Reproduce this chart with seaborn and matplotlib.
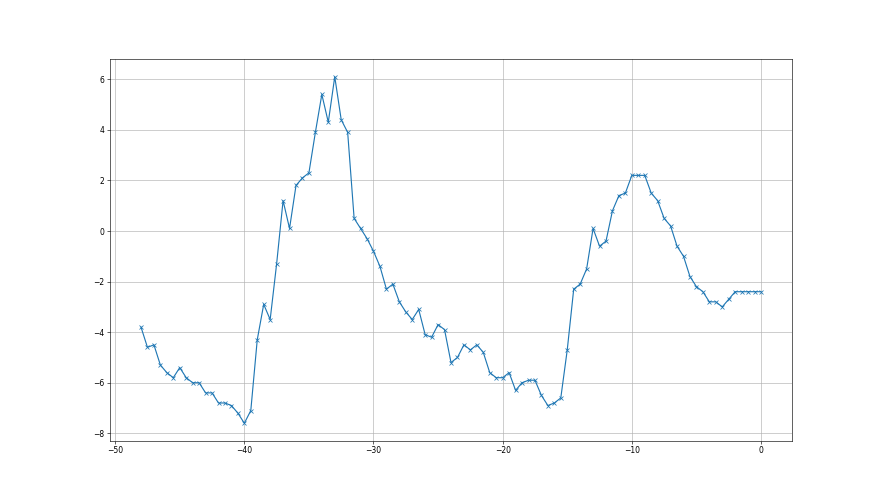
import numpy as np
import matplotlib
matplotlib.use("Agg")
import matplotlib.pyplot as plt
import seaborn as sns

# x positions: -48 .. 0 in steps of 0.5
x_vals = [
    -48, -47.5, -47, -46.5, -46, -45.5, -45, -44.5, -44, -43.5,
    -43, -42.5, -42, -41.5, -41, -40.5, -40, -39.5, -39, -38.5,
    -38, -37.5, -37, -36.5, -36, -35.5, -35, -34.5, -34, -33.5,
    -33, -32.5, -32, -31.5, -31, -30.5, -30, -29.5, -29, -28.5,
    -28, -27.5, -27, -26.5, -26, -25.5, -25, -24.5, -24, -23.5,
    -23, -22.5, -22, -21.5, -21, -20.5, -20, -19.5, -19, -18.5,
    -18, -17.5, -17, -16.5, -16, -15.5, -15, -14.5, -14, -13.5,
    -13, -12.5, -12, -11.5, -11, -10.5, -10, -9.5, -9, -8.5,
    -8, -7.5, -7, -6.5, -6, -5.5, -5, -4.5, -4, -3.5,
    -3, -2.5, -2, -1.5, -1, -0.5, 0,
]
y_vals = [
    -3.8, -4.6, -4.5, -5.3, -5.6, -5.8, -5.4, -5.8, -6.0, -6.0,
    -6.4, -6.4, -6.8, -6.8, -6.9, -7.2, -7.6, -7.1, -4.3, -2.9,
    -3.5, -1.3, 1.2, 0.1, 1.8, 2.1, 2.3, 3.9, 5.4, 4.3,
    6.1, 4.4, 3.9, 0.5, 0.1, -0.3, -0.8, -1.4, -2.3, -2.1,
    -2.8, -3.2, -3.5, -3.1, -4.1, -4.2, -3.7, -3.9, -5.2, -5.0,
    -4.5, -4.7, -4.5, -4.8, -5.6, -5.8, -5.8, -5.6, -6.3, -6.0,
    -5.9, -5.9, -6.5, -6.9, -6.8, -6.6, -4.7, -2.3, -2.1, -1.5,
    0.1, -0.6, -0.4, 0.8, 1.4, 1.5, 2.2, 2.2, 2.2, 1.5,
    1.2, 0.5, 0.2, -0.6, -1.0, -1.8, -2.2, -2.4, -2.8, -2.8,
    -3.0, -2.7, -2.4, -2.4, -2.4, -2.4, -2.4,
]

fig, ax = plt.subplots(figsize=(16, 9), dpi=55)
sns.lineplot(x=x_vals, y=y_vals, marker="x", color="#1f77b4",
             markeredgecolor="#1f77b4", markeredgewidth=1.0,
             markersize=6, linewidth=1.5, ax=ax)
ax.grid(True, color="#b0b0b0", linewidth=0.8)
ax.set_axisbelow(True)
ax.set_xticks([-50, -40, -30, -20, -10, 0])
ax.set_yticks([-8, -6, -4, -2, 0, 2, 4, 6])

fig.savefig("out.png", dpi=55)
